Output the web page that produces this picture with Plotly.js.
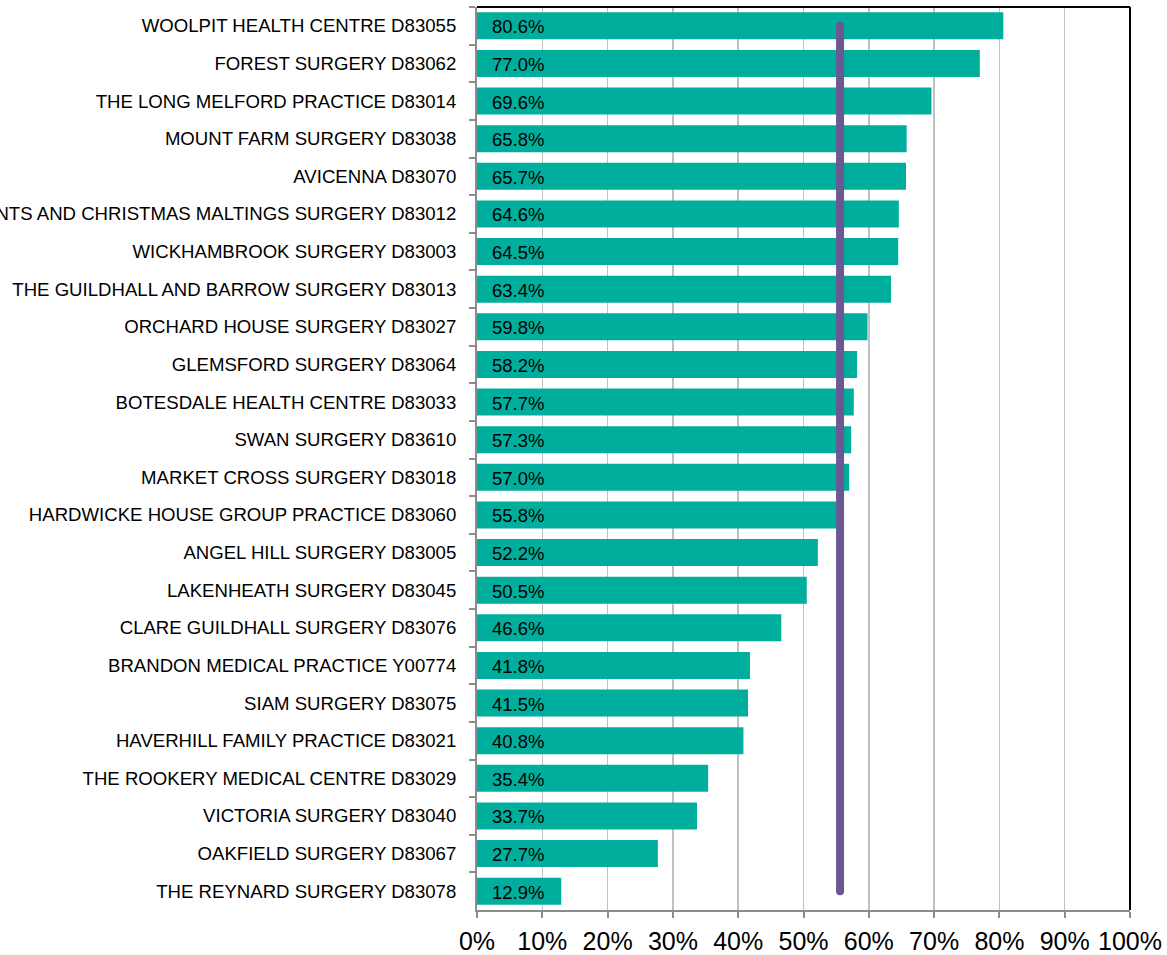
<!DOCTYPE html>
<html>
<head>
<meta charset="utf-8">
<script src="https://cdn.plot.ly/plotly-3.0.1.min.js"></script>
<style>
  html, body { margin: 0; padding: 0; background: #fff; }
  #chart { width: 1167px; height: 955px; }
</style>
</head>
<body>
<div id="chart"></div>
<script>
const practices = [
  "WOOLPIT HEALTH CENTRE D83055",
  "FOREST SURGERY D83062",
  "THE LONG MELFORD PRACTICE D83014",
  "MOUNT FARM SURGERY D83038",
  "AVICENNA D83070",
  "CLEMENTS AND CHRISTMAS MALTINGS SURGERY D83012",
  "WICKHAMBROOK SURGERY D83003",
  "THE GUILDHALL AND BARROW SURGERY D83013",
  "ORCHARD HOUSE SURGERY D83027",
  "GLEMSFORD SURGERY D83064",
  "BOTESDALE HEALTH CENTRE D83033",
  "SWAN SURGERY D83610",
  "MARKET CROSS SURGERY D83018",
  "HARDWICKE HOUSE GROUP PRACTICE D83060",
  "ANGEL HILL SURGERY D83005",
  "LAKENHEATH SURGERY D83045",
  "CLARE GUILDHALL SURGERY D83076",
  "BRANDON MEDICAL PRACTICE Y00774",
  "SIAM SURGERY D83075",
  "HAVERHILL FAMILY PRACTICE D83021",
  "THE ROOKERY MEDICAL CENTRE D83029",
  "VICTORIA SURGERY D83040",
  "OAKFIELD SURGERY D83067",
  "THE REYNARD SURGERY D83078"
];
const percentValues = [80.6, 77.0, 69.6, 65.8, 65.7, 64.6, 64.5, 63.4, 59.8, 58.2, 57.7, 57.3, 57.0, 55.8, 52.2, 50.5, 46.6, 41.8, 41.5, 40.8, 35.4, 33.7, 27.7, 12.9];
const averageValue = 55.6;
const xTickValues = [0, 10, 20, 30, 40, 50, 60, 70, 80, 90, 100];
const xTickLabels = ["0%", "10%", "20%", "30%", "40%", "50%", "60%", "70%", "80%", "90%", "100%"];

const teal = "#00AE9D";
const purple = "#6B5791";
const FONT = "Liberation Sans, Arial, sans-serif";

const bars = {
  type: "bar",
  orientation: "h",
  x: percentValues,
  y: practices,
  marker: { color: teal, line: { width: 0 } },
  hoverinfo: "skip",
  showlegend: false
};

const avgLine = {
  type: "scatter",
  mode: "lines+markers",
  x: [averageValue, averageValue],
  y: [practices[0], practices[practices.length - 1]],
  line: { color: purple, width: 8 },
  marker: { color: purple, size: 8 },
  hoverinfo: "skip",
  showlegend: false,
  cliponaxis: false
};

const annotations = percentValues.map((v, i) => ({
  x: 0,
  y: practices[i],
  xref: "x",
  yref: "y",
  text: v.toFixed(1) + "%",
  showarrow: false,
  xanchor: "left",
  yanchor: "middle",
  xshift: 13,
  yshift: -1,
  font: { family: FONT, size: 18.5, color: "#000" }
}));

const layout = {
  width: 1167,
  height: 955,
  margin: { l: 477, r: 37, t: 7, b: 45, pad: 0 },
  paper_bgcolor: "#fff",
  plot_bgcolor: "#fff",
  bargap: 0.28,
  font: { family: FONT, color: "#000" },
  xaxis: {
    range: [0, 100],
    tickvals: xTickValues,
    ticktext: xTickLabels,
    tickfont: { family: FONT, size: 25, color: "#000" },
    showgrid: true,
    gridcolor: "#C0C0C0",
    gridwidth: 1.5,
    zeroline: false,
    showline: true,
    linecolor: "#8C8C8C",
    linewidth: 2,
    ticks: "outside",
    ticklen: 6,
    tickwidth: 2,
    tickcolor: "#8C8C8C",
    ticklabelstandoff: 2,
    automargin: false,
    fixedrange: true
  },
  yaxis: {
    type: "category",
    range: [practices.length - 0.5, -0.5],
    tickfont: { family: FONT, size: 18.6, color: "#000" },
    showgrid: false,
    zeroline: false,
    showline: true,
    linecolor: "#8C8C8C",
    linewidth: 2,
    ticks: "outside",
    tickson: "boundaries",
    ticklen: 6,
    tickwidth: 2,
    tickcolor: "#8C8C8C",
    ticklabelstandoff: 15,
    automargin: false,
    fixedrange: true
  },
  shapes: [
    { type: "line", xref: "paper", yref: "paper", x0: 0, x1: 1, y0: 1, y1: 1, line: { color: "#000", width: 2 } },
    { type: "line", xref: "paper", yref: "paper", x0: 1, x1: 1, y0: 0, y1: 1, line: { color: "#000", width: 2 } }
  ],
  annotations: annotations
};

Plotly.newPlot("chart", [bars, avgLine], layout, { displayModeBar: false, staticPlot: true });
</script>
</body>
</html>
